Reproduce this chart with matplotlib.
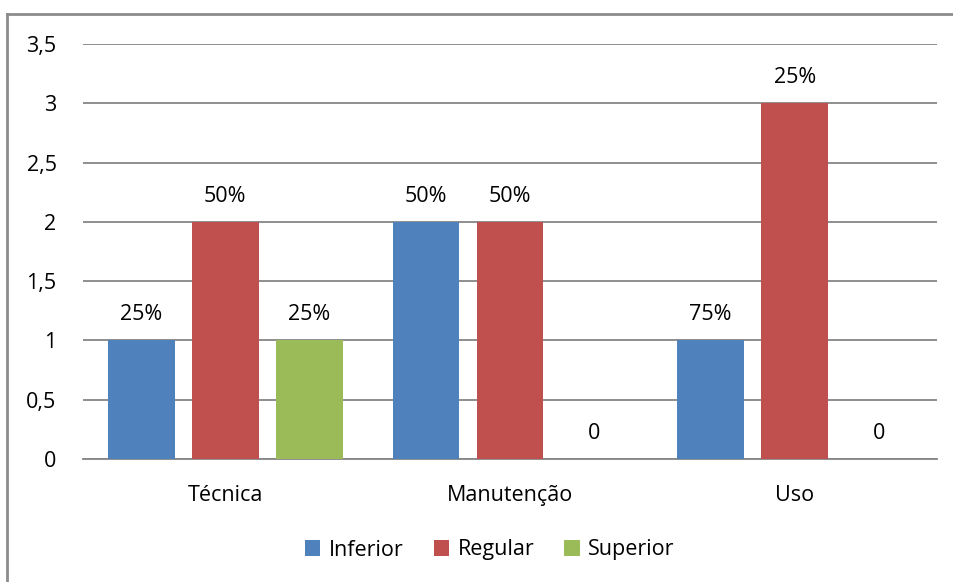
import numpy as np
import matplotlib.pyplot as plt
from matplotlib.lines import Line2D

categories = ["Técnica", "Manutenção", "Uso"]
series = ["Inferior", "Regular", "Superior"]
inferior = [1, 2, 1]
regular = [2, 2, 3]
superior = [1, 0, 0]
labels_inferior = ["25%", "50%", "75%"]
labels_regular = ["50%", "50%", "25%"]
labels_superior = ["25%", "0", "0"]
colors = ["#4F81BD", "#C0504D", "#9BBB59"]

plt.rcParams['font.family'] = ['Open Sans', 'DejaVu Sans']
fs = 15.5

fig = plt.figure(figsize=(9.54, 5.82), dpi=100)
ax = fig.add_axes([83/954, 1-459/582, (937-83)/954, (459-44)/582])

# outer chart frame, only top and left edges are visible
fx, fy = 7/954, 1-14/582
fig.add_artist(Line2D([fx, 1.01], [fy, fy], transform=fig.transFigure, color="#8c8c8c", linewidth=2))
fig.add_artist(Line2D([fx, fx], [fy, -0.01], transform=fig.transFigure, color="#8c8c8c", linewidth=2))

x = np.arange(len(categories))
width = 0.235
step = 0.295
data = [inferior, regular, superior]
labs = [labels_inferior, labels_regular, labels_superior]
for i, (vals, lb) in enumerate(zip(data, labs)):
    pos = x + (i - 1) * step
    ax.bar(pos, vals, width, color=colors[i], label=series[i], zorder=3)
    for p, v, t in zip(pos, vals, lb):
        ax.annotate(t, (p, v), xytext=(0, 18.5), textcoords="offset points",
                    ha="center", va="center", fontsize=fs)

ax.set_xlim(-0.5, 2.5)
ax.set_ylim(0, 3.5)
ax.set_yticks(np.arange(0, 3.51, 0.5))
ax.set_yticklabels(["0", "0,5", "1", "1,5", "2", "2,5", "3", "3,5"])
ax.set_xticks(x)
ax.set_xticklabels(categories)
ax.tick_params(axis="y", length=0, pad=19, labelsize=fs)
ax.tick_params(axis="x", length=0, pad=19, labelsize=fs)
ax.grid(axis="y", color="#868686", linewidth=1.3, zorder=0)
for s in ["top", "right", "left"]:
    ax.spines[s].set_visible(False)
ax.spines["bottom"].set_color("#868686")
ax.spines["bottom"].set_linewidth(1.3)

fig.legend(loc="center", bbox_to_anchor=(490/954, 1-550/582), ncol=3, frameon=False,
           fontsize=fs, handlelength=0.7, handleheight=0.7, handletextpad=0.4,
           columnspacing=1.4)

fig.savefig("out.png", dpi=100)
